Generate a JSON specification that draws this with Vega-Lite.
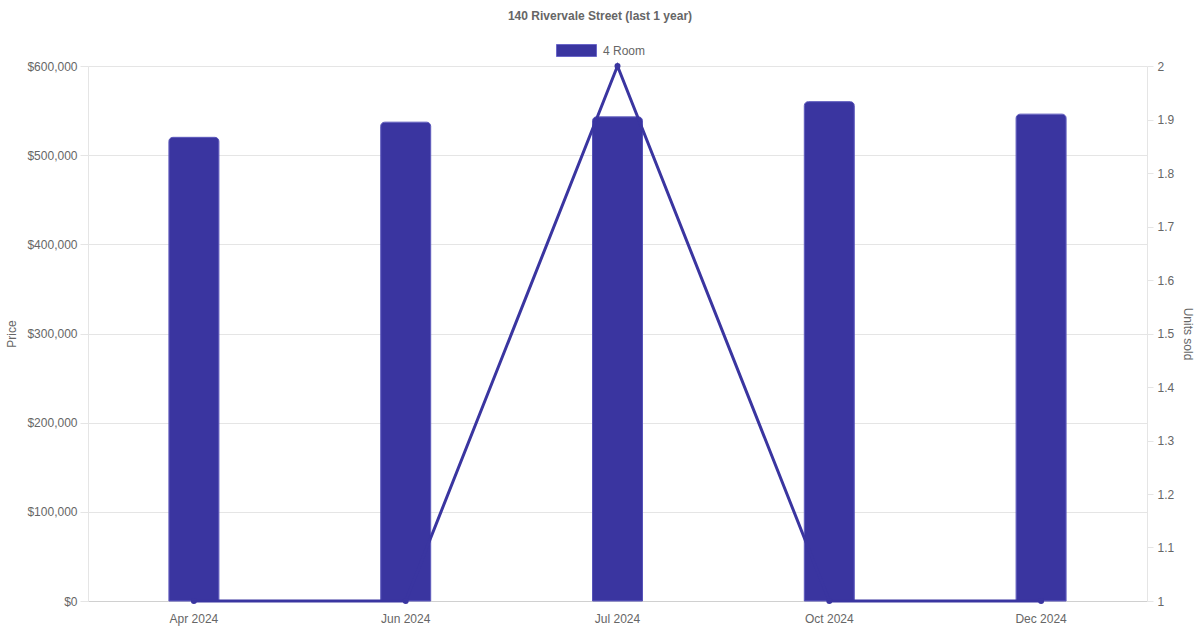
{
  "$schema": "https://vega.github.io/schema/vega-lite/v6.json",
  "width": 1059,
  "height": 535,
  "autosize": {"type": "none"},
  "padding": {"left": 88, "top": 66, "right": 53, "bottom": 29},
  "title": {
    "text": "140 Rivervale Street (last 1 year)",
    "anchor": "middle",
    "dx": -17.5,
    "offset": 7,
    "fontSize": 12,
    "fontWeight": "bold",
    "color": "#666666"
  },
  "data": {
    "values": [
      {"month": "Apr 2024", "price": 520000, "units": 1},
      {"month": "Jun 2024", "price": 537000, "units": 1},
      {"month": "Jul 2024", "price": 543000, "units": 2},
      {"month": "Oct 2024", "price": 560000, "units": 1},
      {"month": "Dec 2024", "price": 546000, "units": 1}
    ]
  },
  "encoding": {
    "x": {
      "field": "month",
      "type": "nominal",
      "sort": null,
      "title": null,
      "scale": {"paddingInner": 0, "paddingOuter": 0},
      "axis": {
        "labelAngle": 0,
        "ticks": false,
        "grid": false,
        "domainColor": "#d0d0d0",
        "labelPadding": 12
      }
    }
  },
  "layer": [
    {
      "mark": {"type": "bar", "size": 50, "cornerRadiusEnd": 4, "stroke": "#5753b8", "strokeWidth": 1},
      "encoding": {
        "y": {
          "field": "price",
          "type": "quantitative",
          "title": "Price",
          "scale": {"domain": [0, 600000]},
          "axis": {
            "orient": "left",
            "values": [0, 100000, 200000, 300000, 400000, 500000, 600000],
            "format": "$,.0f",
            "tickSize": 8,
            "labelPadding": 3,
            "titlePadding": 8
          }
        },
        "color": {
          "datum": "4 Room",
          "type": "nominal",
          "scale": {"range": ["#3a35a0"]},
          "legend": {
            "title": null,
            "orient": "none",
            "legendX": 468,
            "legendY": -36,
            "padding": 0,
            "symbolType": "M-1,-0.3H1V0.3H-1Z",
            "symbolSize": 1600,
            "symbolStrokeWidth": 1,
            "symbolStrokeColor": "#6a66c8",
            "symbolOpacity": 1,
            "labelFontSize": 12,
            "labelColor": "#666666",
            "labelOffset": 6
          }
        }
      }
    },
    {
      "mark": {
        "type": "line",
        "color": "#3a35a0",
        "strokeWidth": 3,
        "point": {"filled": true, "size": 36, "color": "#3a35a0"}
      },
      "encoding": {
        "y": {
          "field": "units",
          "type": "quantitative",
          "title": "Units sold",
          "scale": {"domain": [1, 2], "zero": false},
          "axis": {
            "orient": "right",
            "values": [1, 1.1, 1.2, 1.3, 1.4, 1.5, 1.6, 1.7, 1.8, 1.9, 2],
            "format": ".1~f",
            "grid": false,
            "tickSize": 6,
            "labelPadding": 4,
            "titleAngle": 90,
            "titlePadding": 7
          }
        }
      }
    }
  ],
  "resolve": {"scale": {"y": "independent"}},
  "config": {
    "font": "Liberation Sans",
    "view": {"stroke": null},
    "axis": {
      "labelFont": "Liberation Sans",
      "labelFontSize": 12,
      "labelColor": "#666666",
      "titleFont": "Liberation Sans",
      "titleFontSize": 12,
      "titleFontWeight": "normal",
      "titleColor": "#666666",
      "gridColor": "#e5e5e5",
      "domainColor": "#e5e5e5",
      "tickColor": "#e5e5e5"
    },
    "legend": {"labelFont": "Liberation Sans"}
  }
}
